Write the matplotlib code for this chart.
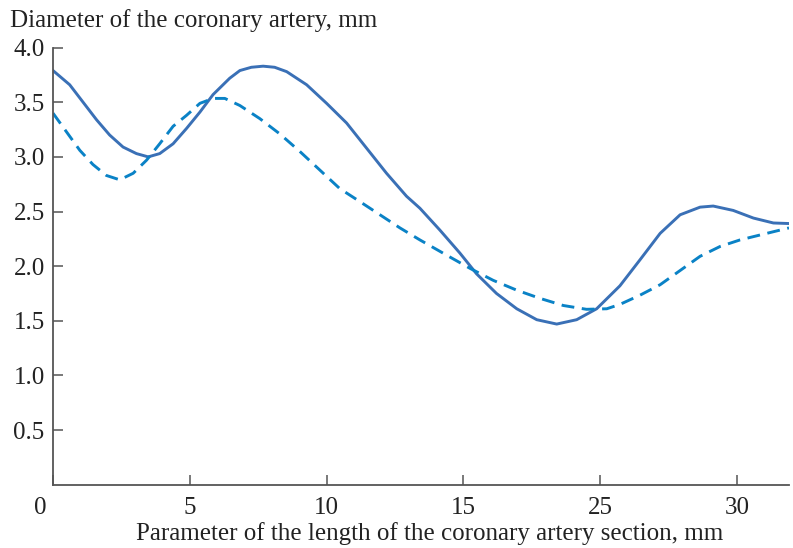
import matplotlib
matplotlib.use("Agg")
import matplotlib.pyplot as plt
import matplotlib.transforms as mtransforms

# Solid curve (axis position units)
solid_x = [0, 0.61, 1.10, 1.59, 2.07, 2.56, 3.05, 3.48, 3.90, 4.39, 4.88, 5.37, 5.85,
           6.46, 6.83, 7.25, 7.68, 8.1, 8.54, 9.27, 10.0, 10.73, 11.46, 12.19, 12.92,
           13.41, 14.14, 14.87, 15.48, 16.21, 16.95, 17.68, 18.41, 19.14, 19.87, 20.72,
           21.46, 22.19, 22.92, 23.65, 24.13, 24.86, 25.60, 26.33, 26.9]
solid_y = [3.79, 3.66, 3.50, 3.34, 3.20, 3.09, 3.03, 3.00, 3.03, 3.12, 3.26, 3.41, 3.57,
           3.72, 3.79, 3.82, 3.83, 3.82, 3.78, 3.66, 3.49, 3.31, 3.08, 2.85, 2.64,
           2.53, 2.33, 2.12, 1.93, 1.75, 1.61, 1.51, 1.47, 1.51, 1.61, 1.82,
           2.06, 2.30, 2.47, 2.54, 2.55, 2.51, 2.44, 2.395, 2.39]

# Dashed curve
dashed_x = [0, 0.49, 0.98, 1.46, 1.95, 2.44, 2.93, 3.42, 3.90, 4.39, 4.88, 5.37, 5.85,
            6.28, 6.83, 7.56, 8.29, 9.02, 9.75, 10.48, 11.22, 11.95, 12.68, 13.41,
            14.39, 15.24, 16.09, 16.95, 17.80, 18.65, 19.50, 20.24, 20.72, 21.46, 22.19,
            22.92, 23.65, 24.38, 25.11, 25.84, 26.9]
dashed_y = [3.40, 3.23, 3.06, 2.93, 2.83, 2.79, 2.85, 2.97, 3.12, 3.28, 3.38, 3.49, 3.535,
            3.535, 3.47, 3.35, 3.21, 3.05, 2.88, 2.71, 2.59, 2.47, 2.35, 2.24,
            2.10, 1.98, 1.87, 1.78, 1.705, 1.64, 1.605, 1.61, 1.65, 1.735, 1.83,
            1.96, 2.09, 2.18, 2.24, 2.285, 2.35]

xtick_pos = [0, 5, 10, 15, 20, 25]
xtick_labels = ["0", "5", "10", "15", "25", "30"]
ytick_pos = [0.5, 1.0, 1.5, 2.0, 2.5, 3.0, 3.5, 4.0]
ytick_labels = ["0.5", "1.0", "1.5", "2.0", "2.5", "3.0", "3.5", "4.0"]

plt.rcParams['font.family'] = ['Liberation Serif', 'DejaVu Serif']
FS = 18

fig = plt.figure(figsize=(7.93, 5.48), dpi=100)
W, H = 793, 548
ax = fig.add_axes([53 / W, (H - 484.7) / H, (789 - 53) / W, (484.7 - 47.6) / H])

ax.plot(solid_x, solid_y, color="#3a70b6", lw=2.1, solid_joinstyle="round")
ax.plot(dashed_x, dashed_y, color="#0a82c6", lw=2.1, dashes=(4.4, 2.6),
        dash_joinstyle="round")

ax.set_xlim(0, 26.9)
ax.set_ylim(0, 4.0)
ax.set_xticks(xtick_pos)
ax.set_xticklabels(xtick_labels)
ax.set_yticks(ytick_pos)
ax.set_yticklabels(ytick_labels)

for s in ["top", "right"]:
    ax.spines[s].set_visible(False)
for s in ["left", "bottom"]:
    ax.spines[s].set_color("#555555")
    ax.spines[s].set_linewidth(1.3)

ax.tick_params(direction="in", length=7, width=1.1, color="#555555",
               labelsize=FS, labelcolor="#222222", pad=6)
ax.tick_params(axis="x", pad=9)

# shift the "0" label left of the origin
lbl0 = ax.get_xticklabels()[0]
lbl0.set_transform(lbl0.get_transform() + mtransforms.ScaledTranslation(-13 / 100, 0, fig.dpi_scale_trans))

fig.text(10 / W, 1 - 27 / H, "Diameter of the coronary artery, mm", fontsize=FS,
         color="#222222", ha="left", va="baseline")
fig.text(430 / W, 1 - 540 / H, "Parameter of the length of the coronary artery section, mm",
         fontsize=FS, color="#222222", ha="center", va="baseline")

fig.savefig("out.png", dpi=100)
